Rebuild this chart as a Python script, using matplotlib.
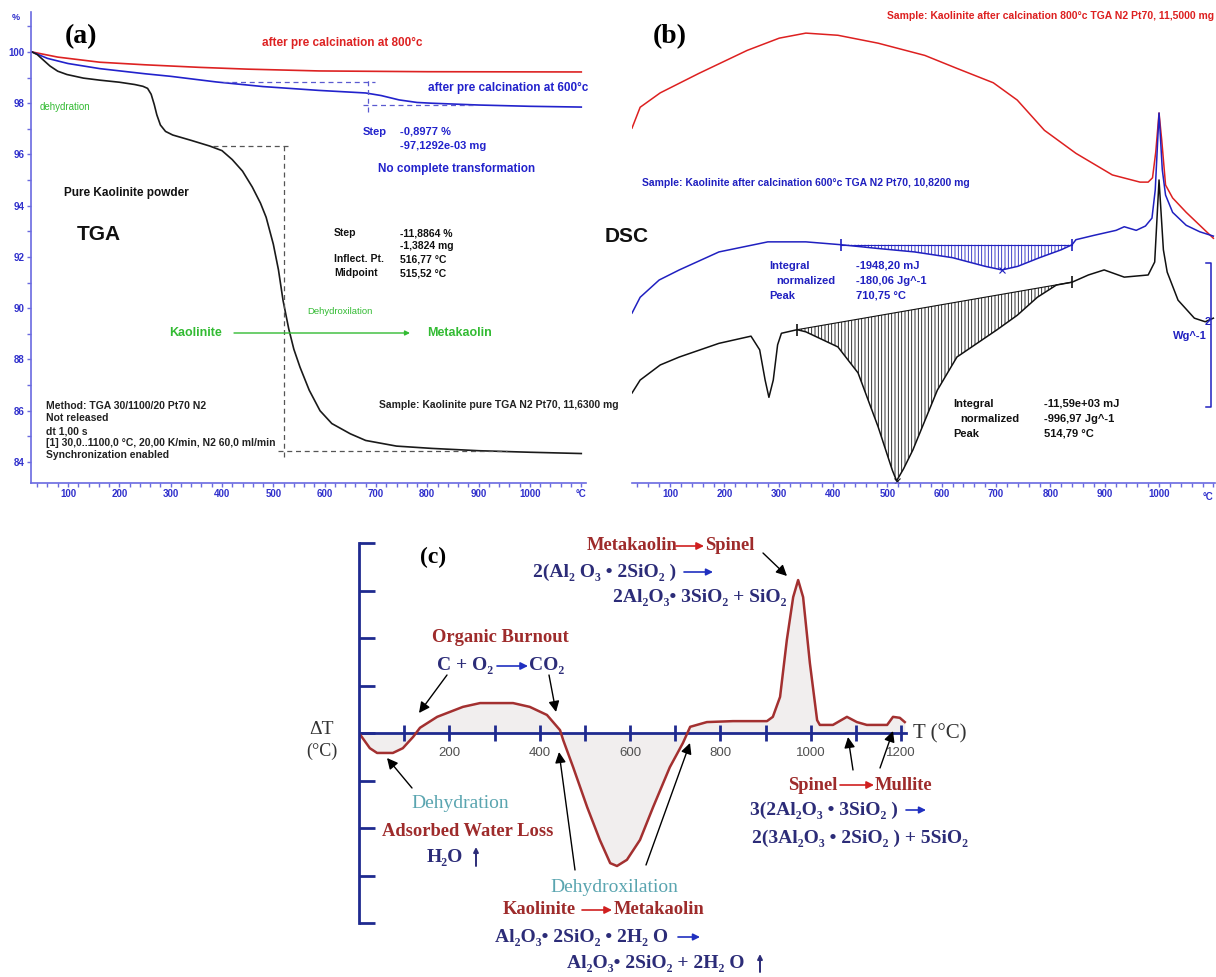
import numpy as np
import matplotlib
matplotlib.use("Agg")
import matplotlib.pyplot as plt

W, H = 1216, 977
SANS = ["Liberation Sans", "DejaVu Sans"]
NARROW = ["Liberation Sans Narrow", "Liberation Sans", "DejaVu Sans"]
SERIF = ["Liberation Serif", "DejaVu Serif"]

# ---------------- (a) TGA: temperature (C) / mass (%) ----------------
tga_pure_T = [30, 40, 50, 65, 80, 98, 130, 162, 200, 230, 246, 255, 262, 268, 273, 280, 290,
              304, 340, 376, 400, 420, 440, 459, 475, 486, 500, 510, 519, 530, 540, 552, 570,
              591, 614, 650, 680, 740, 809, 900, 1000, 1100]
tga_pure_w = [100.0, 99.9, 99.72, 99.45, 99.25, 99.12, 98.98, 98.9, 98.82, 98.73, 98.66, 98.58,
              98.35, 97.95, 97.55, 97.15, 96.9, 96.76, 96.55, 96.33, 96.15, 95.8, 95.35, 94.73,
              94.1, 93.55, 92.5, 91.5, 90.3, 89.2, 88.4, 87.7, 86.8, 86.0, 85.5, 85.1, 84.84,
              84.62, 84.53, 84.44, 84.38, 84.33]
tga_600_T = [30, 60, 100, 162, 250, 300, 389, 480, 589, 680, 710, 745, 780, 809, 900, 1000, 1100]
tga_600_w = [100.0, 99.75, 99.55, 99.35, 99.15, 99.05, 98.83, 98.65, 98.5, 98.4, 98.3, 98.13,
             98.03, 98.0, 97.93, 97.88, 97.85]
tga_800_T = [30, 80, 162, 250, 356, 450, 589, 800, 1100]
tga_800_w = [100.0, 99.8, 99.6, 99.5, 99.4, 99.33, 99.26, 99.23, 99.22]

# step evaluation lines (T, %)
step600_h1 = ([402, 698], [98.83, 98.83])
step600_v = ([684, 684], [97.66, 99.02])
step600_h2 = ([675, 889], [97.93, 97.93])
steppure_h1 = ([382, 532], [96.33, 96.33])
steppure_v = ([521, 521], [84.2, 96.49])
steppure_h2 = ([509, 955], [84.43, 84.43])

# ---------------- (b) DSC: temperature (C) / heat flow (W/g, offset) ----------------
dsc_800_T = [30, 45, 82, 153, 242, 301, 350, 409, 483, 569, 628, 695, 739, 789, 847, 914, 965,
             980, 988, 994, 1000, 1005, 1012, 1025, 1050, 1075, 1100]
dsc_800_q = [4.93, 5.22, 5.42, 5.69, 6.01, 6.18, 6.25, 6.22, 6.11, 5.94, 5.76, 5.56, 5.32, 4.90,
             4.58, 4.28, 4.18, 4.18, 4.24, 4.60, 5.14, 4.76, 4.14, 3.96, 3.76, 3.58, 3.40]
dsc_600_T = [30, 45, 80, 117, 190, 280, 350, 415, 480, 550, 620, 680, 711, 740, 780, 820, 840,
             847, 880, 921, 936, 958, 975, 987, 993, 1000, 1006, 1012, 1025, 1050, 1075, 1100]
dsc_600_q = [2.36, 2.58, 2.82, 2.96, 3.21, 3.35, 3.35, 3.31, 3.26, 3.21, 3.13, 3.01, 2.96, 3.01,
             3.13, 3.24, 3.31, 3.38, 3.44, 3.51, 3.56, 3.51, 3.57, 3.68, 4.07, 5.14, 4.35, 4.00,
             3.76, 3.58, 3.49, 3.43]
dsc_pure_T = [30, 45, 82, 117, 190, 249, 265, 275, 282, 290, 298, 305, 334, 350, 409, 446, 483,
              509, 517, 530, 547, 592, 628, 702, 739, 776, 811, 840, 870, 899, 936, 980, 992,
              1000, 1008, 1015, 1035, 1065, 1085, 1100]
dsc_pure_q = [1.25, 1.43, 1.64, 1.75, 1.94, 2.04, 1.85, 1.43, 1.19, 1.43, 1.92, 2.08, 2.13, 2.10,
              1.89, 1.53, 0.78, 0.18, 0.03, 0.20, 0.46, 1.29, 1.75, 2.13, 2.33, 2.58, 2.75, 2.79,
              2.89, 2.96, 2.86, 2.89, 3.07, 4.21, 3.24, 2.93, 2.54, 2.29, 2.24, 2.29]
base600 = (415, 840)
basepure = (334, 840)
peak600 = (711, 2.96)
peakpure = (517, 0.03)

# ---------------- (c) schematic DTA: temperature (C) / delta T ----------------
dta_T = [0, 24, 40, 75, 97, 120, 135, 173, 230, 268, 341, 378, 416, 445, 452, 474, 505, 533,
         556, 571, 593, 622, 651, 688, 717, 733, 770, 828, 903, 916, 932, 947, 961, 972, 983,
         998, 1014, 1020, 1049, 1080, 1102, 1124, 1169, 1182, 1197, 1208]
dta_dT = [0.0, -0.32, -0.42, -0.42, -0.32, -0.08, 0.11, 0.34, 0.55, 0.63, 0.63, 0.55, 0.38, 0.06,
          -0.15, -0.72, -1.56, -2.25, -2.74, -2.80, -2.67, -2.25, -1.56, -0.72, -0.21, 0.13, 0.23,
          0.25, 0.25, 0.34, 0.76, 1.96, 2.86, 3.22, 2.86, 1.47, 0.27, 0.17, 0.17, 0.34, 0.23,
          0.17, 0.17, 0.34, 0.32, 0.23]
dta_ticks = [100, 200, 300, 400, 500, 600, 700, 800, 900, 1000, 1100, 1200]
dta_labels = [200, 400, 600, 800, 1000, 1200]

BLUE_AX = "#6a6ae0"
BLUE_LAB = "#3030cc"
NAVY = "#1f2a8f"
DRED = "#9e2b2b"
INK = "#2c2c78"
TEAL = "#5aa5b0"
GREEN = "#33bb33"


def px_axes(fig, left, top, right, bottom):
    return fig.add_axes([left / W, 1 - bottom / H, (right - left) / W, (bottom - top) / H])


fig = plt.figure(figsize=(W / 100, H / 100), dpi=100)
plt.rcParams["hatch.linewidth"] = 0.6

# ---- (a) ----
ax = px_axes(fig, 31, 12, 586, 483)
ax.plot(tga_800_T, tga_800_w, color="#dd2222", lw=1.2)
ax.plot(tga_600_T, tga_600_w, color="#2222cc", lw=1.2)
ax.plot(tga_pure_T, tga_pure_w, color="#1a1a1a", lw=1.2)
for xs, ys in [step600_h1, step600_v, step600_h2]:
    ax.plot(xs, ys, color="#5a5ad0", lw=0.9, ls=(0, (4, 3)))
for xs, ys in [steppure_h1, steppure_v, steppure_h2]:
    ax.plot(xs, ys, color="#555555", lw=0.9, ls=(0, (4, 3)))
ax.set_xlim(27.9, 1109.2)
ax.set_ylim(83.18, 101.56)
for s in ["top", "right"]:
    ax.spines[s].set_visible(False)
for s in ["left", "bottom"]:
    ax.spines[s].set_color(BLUE_AX)
    ax.spines[s].set_linewidth(1.2)
ax.set_xticks(list(range(100, 1001, 100)) + [1100])
ax.set_xticklabels([str(v) for v in range(100, 1001, 100)] + ["°C"])
ax.set_xticks(range(40, 1101, 20), minor=True)
ax.set_yticks(range(84, 101, 2))
ax.set_yticks(range(84, 102, 1), minor=True)
ax.tick_params(which="both", direction="out", color=BLUE_AX, labelcolor=BLUE_LAB,
               labelsize=7, length=3, width=1, pad=1.5)
for lbl in ax.get_xticklabels() + ax.get_yticklabels():
    lbl.set_fontweight("bold")
    lbl.set_family(SANS)

# ---- (b) ----
bx = px_axes(fig, 632, 0, 1215, 483)
bx.plot(dsc_800_T, dsc_800_q, color="#dd2020", lw=1.1)
bx.plot(dsc_600_T, dsc_600_q, color="#2020c0", lw=1.1)
bx.plot(dsc_pure_T, dsc_pure_q, color="#111111", lw=1.1)
for T, q, (t0, t1), col in [(dsc_600_T, dsc_600_q, base600, "#2020c0"),
                            (dsc_pure_T, dsc_pure_q, basepure, "#111111")]:
    T = np.array(T)
    q = np.array(q)
    q0, q1 = np.interp([t0, t1], T, q)
    m = (T >= t0) & (T <= t1)
    line = q0 + (T[m] - t0) * (q1 - q0) / (t1 - t0)
    bx.fill_between(T[m], q[m], line, facecolor="none", edgecolor=col, hatch="|||||", linewidth=0)
    bx.plot([t0, t1], [q0, q1], color=col, lw=0.8)
    bx.plot([t0, t1], [q0, q1], ls="none", marker="|", ms=8, mew=1.2, color=col)
bx.plot(*peak600, marker="x", ms=4, mew=0.8, color="#2020c0")
bx.plot(*peakpure, marker="x", ms=5, mew=0.8, color="#111111")
bx.plot([1087, 1096, 1096, 1087], [3.06, 3.06, 1.06, 1.06], color="#2020c0", lw=1.1)
bx.set_xlim(30, 1103)
bx.set_ylim(0, 6.71)
for s in ["top", "right", "left"]:
    bx.spines[s].set_visible(False)
bx.spines["bottom"].set_color(BLUE_AX)
bx.spines["bottom"].set_linewidth(1.2)
bx.set_yticks([])
bx.set_xticks(range(100, 1001, 100))
bx.set_xticks(range(40, 1101, 20), minor=True)
bx.tick_params(which="both", direction="out", color=BLUE_AX, labelcolor=BLUE_LAB,
               labelsize=7, length=3, width=1, pad=1.5)
for lbl in bx.get_xticklabels():
    lbl.set_fontweight("bold")
    lbl.set_family(SANS)

# ---- (c) ----
cx = px_axes(fig, 359, 543, 914.7, 923)
cx.fill_between(dta_T, dta_dT, 0, color="#f1eeee", lw=0)
cx.axhline(0, xmin=0, xmax=1210 / 1230, color=NAVY, lw=2)
cx.plot(dta_ticks, [0] * len(dta_ticks), ls="none", marker="|", ms=12, mew=2, color=NAVY)
cx.plot(dta_T, dta_dT, color="#a33030", lw=1.8)
for v in dta_labels:
    cx.text(v, -0.42, str(v), ha="center", va="center", fontsize=9.5, color="#505050", family=SANS)
cx.set_xlim(0, 1230)
cx.set_ylim(-4, 4)
for s in ["top", "right", "bottom"]:
    cx.spines[s].set_visible(False)
cx.spines["left"].set_color(NAVY)
cx.spines["left"].set_linewidth(2)
cx.set_xticks([])
cx.set_yticks(range(-4, 5))
cx.tick_params(axis="y", direction="in", length=11.5, width=2, color=NAVY, labelleft=False)
cx.patch.set_alpha(0)

# ---- overlay for annotations (pixel coordinates) ----
ov = fig.add_axes([0, 0, 1, 1])
ov.set_xlim(0, W)
ov.set_ylim(H, 0)
ov.axis("off")
ov.patch.set_alpha(0)
ov.set_zorder(10)


def txt(x, y, s, color="black", size=8, weight="bold", family=SANS, ha="left"):
    ov.text(x, y, s, color=color, fontsize=size, fontweight=weight, family=family,
            ha=ha, va="center")


def arrow(x0, y0, x1, y1, color="black", lw=1.0, ms=12):
    ov.annotate("", xy=(x1, y1), xytext=(x0, y0),
                arrowprops=dict(arrowstyle="-|>", color=color, lw=lw, mutation_scale=ms,
                                shrinkA=0, shrinkB=0))


# (a) texts
txt(12, 18, "%", BLUE_LAB, 6.5)
txt(81, 37, "(a)", "black", 20, family=SERIF, ha="center")
txt(262, 43, "after pre calcination at 800°c", "#dd2222", 8.5)
txt(428, 88, "after pre calcination at 600°c", "#2222cc", 8.5)
txt(40, 107, "dehydration", GREEN, 7, weight="normal")
txt(363, 132, "Step", "#2222cc", 8)
txt(400, 132, "-0,8977 %", "#2222cc", 8)
txt(400, 146, "-97,1292e-03 mg", "#2222cc", 8)
txt(378, 169, "No complete transformation", "#2222cc", 8.5)
txt(64, 193, "Pure Kaolinite powder", "#111111", 8.5)
txt(77, 234, "TGA", "#111111", 15)
for y, a, b in [(233, "Step", "-11,8864 %"), (246, None, "-1,3824 mg"),
                (259, "Inflect. Pt.", "516,77 °C"), (273, "Midpoint", "515,52 °C")]:
    if a:
        txt(334, y, a, "#111111", 7.5)
    txt(400, y, b, "#111111", 7.5)
txt(307, 311, "Dehydroxilation", GREEN, 6.8, weight="normal")
txt(169, 333, "Kaolinite", GREEN, 9)
arrow(234, 333, 410, 333, GREEN, lw=1.0, ms=7)
txt(427, 333, "Metakaolin", GREEN, 9)
txt(379, 405, "Sample: Kaolinite pure TGA N2 Pt70, 11,6300 mg", "#222222", 7.5, family=NARROW)
for y, s in zip([406, 418, 431, 443, 455],
                ["Method: TGA 30/1100/20 Pt70 N2", "Not released", "dt 1,00 s",
                 "[1] 30,0..1100,0 °C, 20,00 K/min, N2 60,0 ml/min", "Synchronization enabled"]):
    txt(46, y, s, "#222222", 7.5, family=NARROW)

# (b) texts
txt(1214, 16, "Sample: Kaolinite after calcination 800°c TGA N2 Pt70, 11,5000 mg", "#dd2020", 7.5,
    family=NARROW, ha="right")
txt(670, 37, "(b)", "black", 20, family=SERIF, ha="center")
txt(642, 183, "Sample: Kaolinite after calcination 600°c TGA N2 Pt70, 10,8200 mg", "#2020c0", 7.5,
    family=NARROW)
txt(605, 237, "DSC", "#111111", 15)
for y, a, b, dx in [(266, "Integral", "-1948,20 mJ", 0), (281, "normalized", "-180,06 Jg^-1", 7),
                    (296, "Peak", "710,75 °C", 0)]:
    txt(769 + dx, y, a, "#2020c0", 8)
    txt(856, y, b, "#2020c0", 8)
for y, a, b, dx in [(404, "Integral", "-11,59e+03 mJ", 0), (419, "normalized", "-996,97 Jg^-1", 7),
                    (434, "Peak", "514,79 °C", 0)]:
    txt(953 + dx, y, a, "#111111", 8)
    txt(1044, y, b, "#111111", 8)
txt(1208, 322, "2", "#2020c0", 8, ha="center")
txt(1207, 336, "Wg^-1", "#2020c0", 8, ha="right")
txt(1208, 497, "°C", BLUE_LAB, 7, ha="center")

# (c) texts
txt(322, 729, "ΔT", "#333333", 14, weight="normal", family=SERIF, ha="center")
txt(322, 751, "(°C)", "#333333", 13, weight="normal", family=SERIF, ha="center")
txt(913, 734, "T (°C)", "#333333", 15, weight="normal", family=SERIF)
txt(433, 557, "(c)", "black", 17, family=SERIF, ha="center")

TS = 13.3   # red titles
FS = 14     # formulas
txt(587, 546, "Metakaolin", DRED, TS, family=SERIF)
arrow(676, 546, 704, 546, "#d02020", lw=1.2, ms=11)
txt(705, 546, "Spinel", DRED, TS, family=SERIF)
txt(533, 572, "2(Al₂ O₃ • 2SiO₂ )", INK, FS, family=SERIF)
arrow(684, 572, 713, 572, "#2030c0", lw=1.2, ms=10)
txt(613, 598, "2Al₂O₃• 3SiO₂ + SiO₂", INK, FS, family=SERIF)
arrow(763, 553, 787, 576, ms=16)

txt(500, 637, "Organic Burnout", DRED, TS, family=SERIF, ha="center")
txt(437, 666, "C + O₂", INK, FS, family=SERIF)
arrow(497, 666, 528, 666, "#2030c0", lw=1.2, ms=11)
txt(529, 666, "CO₂", INK, FS, family=SERIF)
arrow(447, 675, 419, 713, ms=16)
arrow(549, 675, 556, 712, ms=16)

txt(460, 804, "Dehydration", TEAL, 14, weight="normal", family=SERIF, ha="center")
arrow(412, 788, 387, 758, ms=16)
txt(468, 831, "Adsorbed Water Loss", DRED, TS, family=SERIF, ha="center")
txt(427, 857, "H₂O", INK, FS, family=SERIF)
arrow(476, 866, 476, 847, INK, lw=1.4, ms=7)

arrow(575, 870, 559, 752, ms=16)
arrow(646, 865, 690, 743, ms=16)
txt(614, 887, "Dehydroxilation", TEAL, 14, weight="normal", family=SERIF, ha="center")
txt(503, 910, "Kaolinite", DRED, TS, family=SERIF)
arrow(582, 910, 612, 910, "#d02020", lw=1.2, ms=11)
txt(614, 910, "Metakaolin", DRED, TS, family=SERIF)
txt(495, 937, "Al₂O₃• 2SiO₂ • 2H₂ O", INK, FS, family=SERIF)
arrow(678, 937, 700, 937, "#2030c0", lw=1.2, ms=10)
txt(567, 964, "Al₂O₃• 2SiO₂ + 2H₂ O", INK, FS, family=SERIF)
arrow(760, 972, 760, 954, INK, lw=1.4, ms=7)

arrow(853, 770, 848, 737, ms=16)
arrow(880, 768, 893, 731, ms=16)
txt(788, 785, "Spinel", DRED, TS, family=SERIF)
arrow(840, 785, 874, 785, "#d02020", lw=1.2, ms=11)
txt(875, 785, "Mullite", DRED, TS, family=SERIF)
txt(750, 810, "3(2Al₂O₃ • 3SiO₂ )", INK, FS, family=SERIF)
arrow(906, 810, 926, 810, "#2030c0", lw=1.2, ms=10)
txt(752, 838, "2(3Al₂O₃ • 2SiO₂ ) + 5SiO₂", INK, FS, family=SERIF)

fig.savefig("out.png", dpi=100)
